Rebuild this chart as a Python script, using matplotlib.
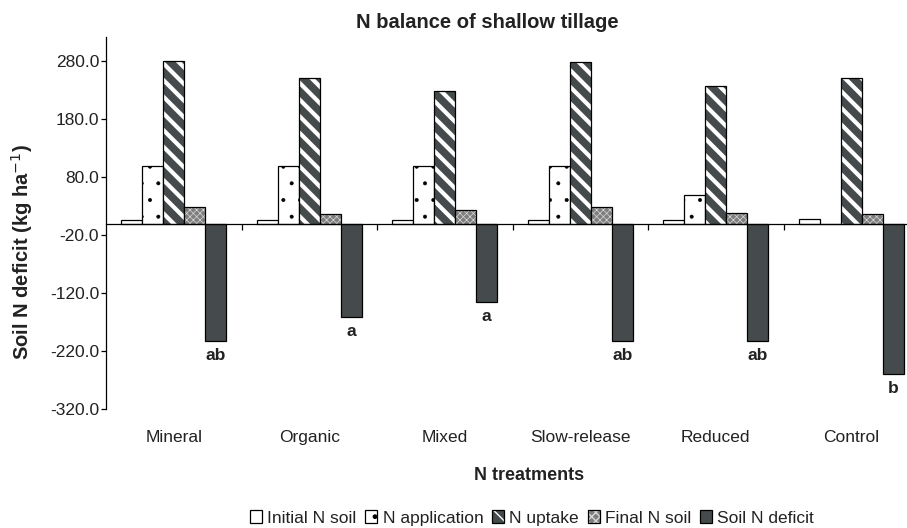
import numpy as np
import matplotlib
matplotlib.use('Agg')
import matplotlib.pyplot as plt
from matplotlib.patches import Patch
from matplotlib.legend_handler import HandlerTuple

# --------------------------------------------------
# DATA

treatments = ['Mineral', 'Organic', 'Mixed', 'Slow-release', 'Reduced', 'Control']
initial_n_soil = [7, 7, 7, 7, 7, 8]
n_application = [100, 100, 100, 100, 50, 0]
n_uptake = [280, 251, 228, 278, 237, 252]
final_n_soil = [28, 16, 24, 28, 19, 16]
soil_n_deficit = [-203, -161, -135, -202, -202, -260]
letters = ['ab', 'a', 'a', 'ab', 'ab', 'b']

y_ticks = [-320, -220, -120, -20, 80, 180, 280]

# --------------------------------------------------
# STYLE

plt.rcParams['font.family'] = ['Liberation Sans', 'DejaVu Sans']
dark = '#454b4c'
txt = '#222222'

fig = plt.figure(figsize=(9.07, 5.28), dpi=100)
ax = fig.add_axes([106 / 907, 1 - 409 / 528, 813 / 907, 372 / 528])

x = np.arange(len(treatments))
w = 0.155
offs = (np.arange(5) - 2) * w


def hatched_bar(xs, vals, lw_hatch, **kw):
    # hatch line width is picked per bar set
    with plt.rc_context({'hatch.linewidth': lw_hatch}):
        bars = ax.bar(xs, vals, w, **kw)
    for p in bars:
        if hasattr(p, '_hatch_linewidth'):
            p._hatch_linewidth = lw_hatch
    return bars


b1 = ax.bar(x + offs[0], initial_n_soil, w, color='white', edgecolor='black', lw=0.9)
b2 = hatched_bar(x + offs[1], n_application, 0.4, color='white', edgecolor='black', lw=0.9, hatch='.')
# uptake: white stripes on dark grey, then black outline
h3 = hatched_bar(x + offs[2], n_uptake, 3.0, color=dark, edgecolor='white', lw=0, hatch='\\\\')
o3 = ax.bar(x + offs[2], n_uptake, w, fill=False, edgecolor='black', lw=0.9)
# final soil: fine checker texture
h4 = hatched_bar(x + offs[3], final_n_soil, 0.5, color='#7e7e7e', edgecolor='#d8d8d8', lw=0, hatch='xxxxx')
o4 = ax.bar(x + offs[3], final_n_soil, w, fill=False, edgecolor='black', lw=0.9)
b5 = ax.bar(x + offs[4], soil_n_deficit, w, color=dark, edgecolor='black', lw=0.9)

# significance letters below the deficit bars
for xi, v, t in zip(x + offs[4], soil_n_deficit, letters):
    ax.annotate(t, (xi, v), xytext=(0, -5), textcoords='offset points',
                ha='center', va='top', fontsize=12.5, fontweight='bold', color=txt)

# axes
ax.set_xlim(-0.5, len(treatments) - 0.5)
ax.set_ylim(-320, 322)
ax.set_yticks(y_ticks)
ax.set_yticklabels(['%.1f' % v for v in y_ticks], fontsize=12.5, color=txt)
ax.tick_params(axis='y', direction='out', length=3.5, width=0.9, pad=1.5)
ax.spines['top'].set_visible(False)
ax.spines['right'].set_visible(False)
ax.spines['left'].set_linewidth(0.9)
ax.spines['bottom'].set_position(('data', 0))
ax.spines['bottom'].set_linewidth(0.9)
ax.set_xticks(x[:-1] + 0.5)
ax.set_xticklabels([])
ax.tick_params(axis='x', direction='out', length=4, width=0.9)

# category labels at the bottom of the plot area
sec = ax.secondary_xaxis('bottom')
sec.set_xticks(x)
sec.set_xticklabels(treatments, fontsize=12.5, color=txt)
sec.tick_params(length=0, pad=15)
sec.spines['bottom'].set_visible(False)

fig.text(22 / 907, 1 - 252 / 528, 'Soil N deficit (kg ha$^{-1}$)', rotation=90,
         ha='center', va='center', fontsize=14.5, fontweight='bold', color=txt)
fig.text(487 / 907, 1 - 22 / 528, 'N balance of shallow tillage', ha='center', va='center',
         fontsize=14.5, fontweight='bold', color=txt)
fig.text(529 / 907, 1 - 476 / 528, 'N treatments', ha='center', va='center',
         fontsize=13, fontweight='bold', color=txt)

# legend with small square keys
with plt.rc_context({'hatch.linewidth': 1.5}):
    k3 = (Patch(facecolor=dark, edgecolor='white', lw=0, hatch='\\\\'),
          Patch(fill=False, edgecolor='black', lw=0.9))
with plt.rc_context({'hatch.linewidth': 0.5}):
    k4 = (Patch(facecolor='#7e7e7e', edgecolor='#d8d8d8', lw=0, hatch='xxxx'),
          Patch(fill=False, edgecolor='black', lw=0.9))
for k, lw in [(k3[0], 1.5), (k4[0], 0.5)]:
    if hasattr(k, '_hatch_linewidth'):
        k._hatch_linewidth = lw
k2 = Patch(facecolor='white', edgecolor='black', lw=0.9, hatch='.')
handles = [b1[0], k2, k3, k4, b5[0]]
labels = ['Initial N soil', 'N application', 'N uptake', 'Final N soil', 'Soil N deficit']
fig.legend(handles, labels, loc='center', bbox_to_anchor=(532 / 907, 1 - 518 / 528),
           ncol=5, frameon=False, fontsize=12.5, handlelength=0.7, handleheight=0.7,
           handletextpad=0.3, columnspacing=0.5, borderpad=0, labelcolor=txt,
           handler_map={tuple: HandlerTuple(ndivide=1)})

fig.savefig('out.png', dpi=100)
